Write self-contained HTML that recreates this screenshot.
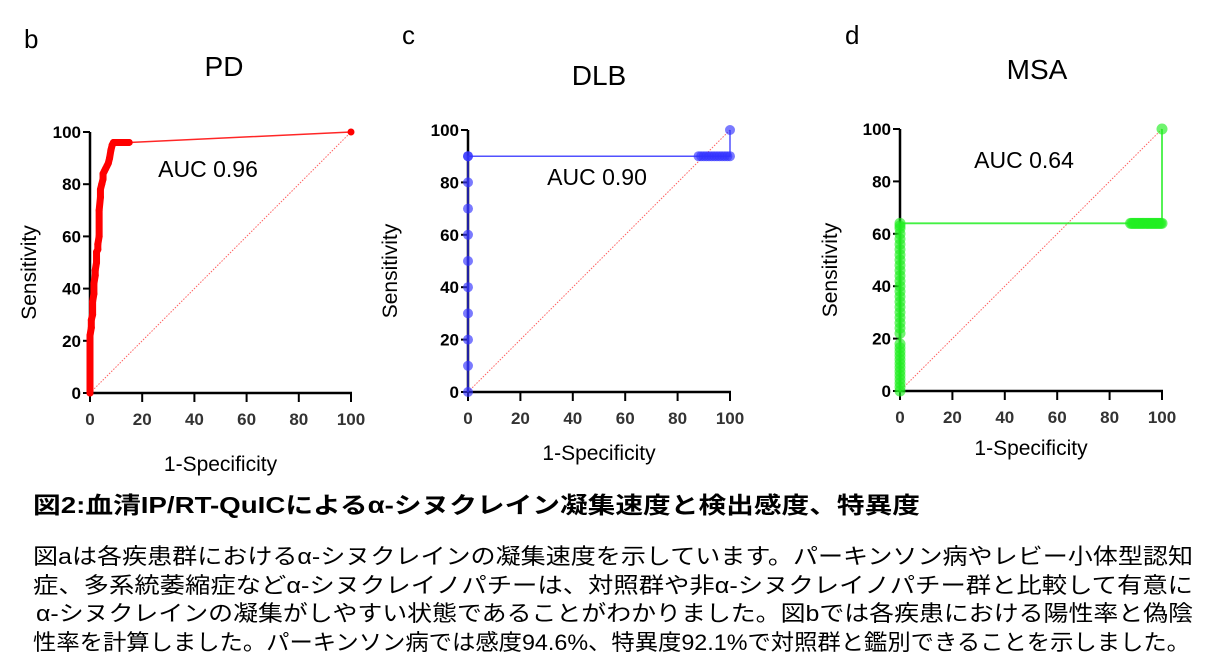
<!DOCTYPE html>
<html><head><meta charset="utf-8">
<style>
html,body{margin:0;padding:0;background:#fff;width:1208px;height:672px;overflow:hidden}
svg{display:block}
text{font-family:"Liberation Sans","Noto Sans CJK JP",sans-serif}
.tick{font-weight:bold;font-size:17px}
.jp{font-family:"Liberation Sans","Noto Sans CJK JP",sans-serif}
</style></head>
<body>
<svg id="fig" width="1208" height="672">
  <text x="24" y="48" font-size="26">b</text>
  <text x="224" y="76" font-size="28" text-anchor="middle">PD</text>
  <text x="402" y="44" font-size="26">c</text>
  <text x="599" y="85" font-size="28" text-anchor="middle">DLB</text>
  <text x="845" y="44" font-size="26">d</text>
  <text x="1037" y="79" font-size="28" text-anchor="middle">MSA</text>

  <text class="jp" x="33" y="513" font-size="23" font-weight="bold" textLength="887" lengthAdjust="spacingAndGlyphs">図2:血清IP/RT-QuICによるα-シヌクレイン凝集速度と検出感度、特異度</text>
  <text class="jp" x="33" y="564" font-size="22" textLength="1160" lengthAdjust="spacingAndGlyphs">図aは各疾患群におけるα-シヌクレインの凝集速度を示しています。パーキンソン病やレビー小体型認知</text>
  <text class="jp" x="33" y="593" font-size="22" textLength="1160" lengthAdjust="spacingAndGlyphs">症、多系統萎縮症などα-シヌクレイノパチーは、対照群や非α-シヌクレイノパチー群と比較して有意に</text>
  <text class="jp" x="36" y="621" font-size="22" textLength="1157" lengthAdjust="spacingAndGlyphs">α-シヌクレインの凝集がしやすい状態であることがわかりました。図bでは各疾患における陽性率と偽陰</text>
  <text class="jp" x="33" y="650" font-size="22" textLength="1157" lengthAdjust="spacingAndGlyphs">性率を計算しました。パーキンソン病では感度94.6%、特異度92.1%で対照群と鑑別できることを示しました。</text>
</svg>
<script>
const xTicks=[0,20,40,60,80,100];
const yTicks=[0,20,40,60,80,100];
const pdFpr=[0,0,0,0,0.5,0.5,1,1,1.5,1.5,2,2,2.5,2.5,3,3,3.5,3.5,4,4,4.5,5,5,5.5,6,6.5,7,7.5,8,8.5,9,10,11,12,13,14,15,100];
const pdTpr=[0,10,18,22,25,28,30,35,38,42,45,47,50,54,55,57,60,70,75,78,80,82,84,85,86,87,88,90,93,95,96,96,96,96,96,96,96,100];
const dlbFpr=[0,0,0,0,0,0,0,0,0,0,0,88,89,90,91,92,93,94,95,96,97,98,99,100,100];
const dlbTpr=[0,10,20,30,40,50,60,70,80,90,90,90,90,90,90,90,90,90,90,90,90,90,90,90,100];
const msaFpr=[0,0,0,0,0,0,0,0,0,0,0,0,0,0,0,0,0,0,0,0,0,0,0,0,0,0,0,0,0,0,0,0,0,0,0,0,88,88.5,89,89.5,90,90.5,91,91.5,92,92.5,93,93.5,94,94.5,95,95.5,96,96.5,97,97.5,98,98.5,99,99.5,100,100];
const msaTpr=[0,1.5,3,4.5,6,7.5,9,10.5,12,13.5,15,16.5,18,22,24,26,28,30,32,34,36,38,40,42,44,46,48,50,52,54,56,58,60,62,63,64,64,64,64,64,64,64,64,64,64,64,64,64,64,64,64,64,64,64,64,64,64,64,64,64,64,100];
const aucLabels=["AUC 0.96","AUC 0.90","AUC 0.64"];

const NS="http://www.w3.org/2000/svg";
const svg=document.getElementById('fig');
function mk(tag,attrs,parent){const e=document.createElementNS(NS,tag);for(const k in attrs)e.setAttribute(k,attrs[k]);(parent||svg).appendChild(e);return e;}

const panels=[
 {key:'pd',x0:90,x1:351,y0:393,y1:132,fpr:pdFpr,tpr:pdTpr,color:'#ff0000',r:3.5,lw:1.5,auc:[208,177],yt:36,dot:false},
 {key:'dlb',x0:468,x1:730,y0:392,y1:130,fpr:dlbFpr,tpr:dlbTpr,color:'#3333ff',r:5,lw:1.5,auc:[597,185],yt:397,dot:true},
 {key:'msa',x0:900,x1:1162,y0:391,y1:129,fpr:msaFpr,tpr:msaTpr,color:'#22ee22',r:5.5,lw:1.8,auc:[1024,168],yt:837,dot:true}
];
panels.forEach((p,i)=>{
 const sx=v=>p.x0+(p.x1-p.x0)*v/100;
 const sy=v=>p.y0+(p.y1-p.y0)*v/100;
 const g=mk('g',{});
 
 
 const d=mk('line',{x1:sx(0),y1:sy(0),x2:sx(100),y2:sy(100),stroke:'#ff6060','stroke-width':1,'stroke-dasharray':'1.5,1.5'},g);
 
 
 const ya=mk('line',{x1:p.x0,y1:p.y0,x2:p.x0,y2:p.y1,stroke:'#000','stroke-width':2.5},g);
 
 
 const xa=mk('line',{x1:p.x0-1,y1:p.y0,x2:p.x1+1,y2:p.y0,stroke:'#000','stroke-width':2.5},g);
 
 
 yTicks.forEach(t=>{
  mk('line',{x1:p.x0-7,y1:sy(t),x2:p.x0,y2:sy(t),stroke:'#000','stroke-width':2},g);
  const tl=mk('text',{x:p.x0-9,y:sy(t)+6,'text-anchor':'end',class:'tick'},g);
  tl.textContent=t;
  
  
 });
 xTicks.forEach(t=>{
  mk('line',{x1:sx(t),y1:p.y0,x2:sx(t),y2:p.y0+9,stroke:'#000','stroke-width':2},g);
  const tl=mk('text',{x:sx(t),y:p.y0+32,'text-anchor':'middle',class:'tick',fill:'#333'},g);
  tl.textContent=t;
  
  
 });
 const xt=mk('text',{x:(p.x0+p.x1)/2,y:[471,460,455][i],'text-anchor':'middle','font-size':21},g);
 xt.textContent='1-Specificity';
 
 
 const ycx=p.yt, ycy=(p.y0+p.y1)/2+10;
 const yt=mk('text',{x:ycx,y:ycy,'text-anchor':'middle','font-size':21,transform:`rotate(-90 ${ycx} ${ycy})`},g);
 yt.textContent='Sensitivity';
 
 
 const pts=p.fpr.map((f,j)=>sx(f)+','+sy(p.tpr[j])).join(' ');
 const pl=mk('polyline',{points:pts,fill:'none',stroke:p.color,'stroke-width':p.lw,opacity:0.85},g);
 
 
 if(p.key==='pd'){
  const thick=mk('polyline',{points:p.fpr.slice(0,-1).map((f,j)=>sx(f)+','+sy(p.tpr[j])).join(' '),fill:'none',stroke:p.color,'stroke-width':7,'stroke-linejoin':'round','stroke-linecap':'round'},g);
  
  
 }
 p.fpr.forEach((f,j)=>{
  const c=mk('circle',{cx:sx(f),cy:sy(p.tpr[j]),r:p.r,fill:p.color,opacity:p.dot?0.65:1},g);
  
  
 });
 const a=mk('text',{x:p.auc[0],y:p.auc[1],'text-anchor':'middle','font-size':23},g);
 a.textContent=aucLabels[i];
 
 
});
</script>
</body></html>
